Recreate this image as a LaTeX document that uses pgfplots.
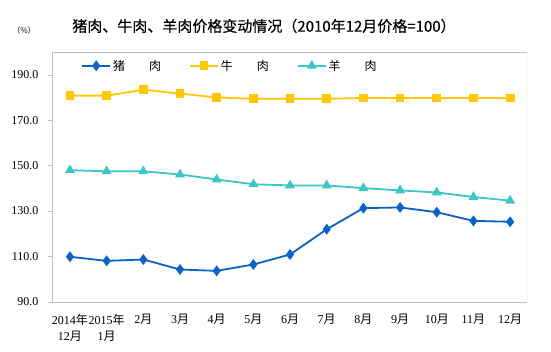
\documentclass[border=0pt]{standalone}
\usepackage{pgfplots}
\pgfplotsset{compat=1.18}
\usepackage{fontspec}
\setmainfont{Liberation Serif}
\newfontfamily\cjk{Noto Sans CJK SC}
\newfontfamily\cjkt[FakeBold=0.6]{Noto Sans CJK SC}
\definecolor{pork}{HTML}{0A62C4}
\definecolor{beef}{HTML}{FFC800}
\definecolor{mutton}{HTML}{3CC6C6}
\definecolor{frame}{HTML}{BFBFBF}
\begin{document}
\begin{tikzpicture}
\path[use as bounding box] (0,0) rectangle (551bp,352bp);
\begin{axis}[
  at={(52bp,50bp)}, anchor=south west,
  width=475bp, height=250bp, scale only axis,
  xmin=-0.49, xmax=12.46, ymin=90, ymax=200,
  ytick={90,110,130,150,170,190},
  /pgf/number format/fixed, /pgf/number format/fixed zerofill, /pgf/number format/precision=1,
  /pgf/number format/assume math mode=true,
  yticklabel style={font=\fontsize{12bp}{13bp}\selectfont, xshift=-6bp},
  xtick={0,...,12},
  xticklabels={{2014{\cjk 年}\\12{\cjk 月}},{2015{\cjk 年}\\1{\cjk 月}},2{\cjk 月},3{\cjk 月},4{\cjk 月},5{\cjk 月},6{\cjk 月},7{\cjk 月},8{\cjk 月},9{\cjk 月},10{\cjk 月},11{\cjk 月},12{\cjk 月}},
  xticklabel style={font=\fontsize{12bp}{16bp}\selectfont, align=center, yshift=-9bp},
  major x tick style={draw=none},
  ytick align=outside, tick style={frame, thin}, major tick length=4bp,
  axis line style={frame},
  axis y line*=left, 
  legend style={at={(rel axis cs:0.055,0.985)}, anchor=north west, draw=none, fill=none,
    font=\cjk\fontsize{12bp}{13bp}\selectfont, legend columns=3,
    /tikz/every even column/.append style={column sep=26bp}},
  legend image code/.code={\draw[mark repeat=2,mark phase=2,#1] plot coordinates {(0bp,0bp) (14bp,0bp) (28bp,0bp)};},
]
\draw[frame] (rel axis cs:0,1) -- (rel axis cs:1,1) -- (rel axis cs:1,0) -- (rel axis cs:0,0);
\addplot[pork, line width=1.8bp, mark=diamond*, mark size=4bp, mark options={fill=pork}] coordinates {
(0,109.9)(1,108.1)(2,108.7)(3,104.3)(4,103.7)(5,106.5)(6,110.9)(7,122.0)(8,131.3)(9,131.6)(10,129.5)(11,125.7)(12,125.3)};
\addlegendentry{猪\hspace{24bp}肉}
\addplot[beef, line width=1.8bp, mark=square*, mark size=3.5bp, mark options={fill=beef}] coordinates {
(0,180.8)(1,180.8)(2,183.4)(3,181.7)(4,180.0)(5,179.4)(6,179.4)(7,179.4)(8,179.8)(9,179.8)(10,179.8)(11,179.8)(12,179.8)};
\addlegendentry{牛\hspace{24bp}肉}
\addplot[mutton, line width=1.8bp, mark=triangle*, mark size=4bp, mark options={fill=mutton}] coordinates {
(0,148.0)(1,147.5)(2,147.5)(3,146.1)(4,143.9)(5,141.8)(6,141.3)(7,141.3)(8,140.1)(9,139.1)(10,138.2)(11,136.2)(12,134.6)};
\addlegendentry{羊\hspace{24bp}肉}
\end{axis}
\node[font=\cjkt\fontsize{15bp}{17bp}\selectfont] at (264bp,326bp) {猪肉、牛肉、羊肉价格变动情况（2010年12月价格=100）};
\node[font=\cjk\fontsize{8bp}{9bp}\selectfont] at (24bp,322bp) {（\%）};
\end{tikzpicture}
\end{document}
